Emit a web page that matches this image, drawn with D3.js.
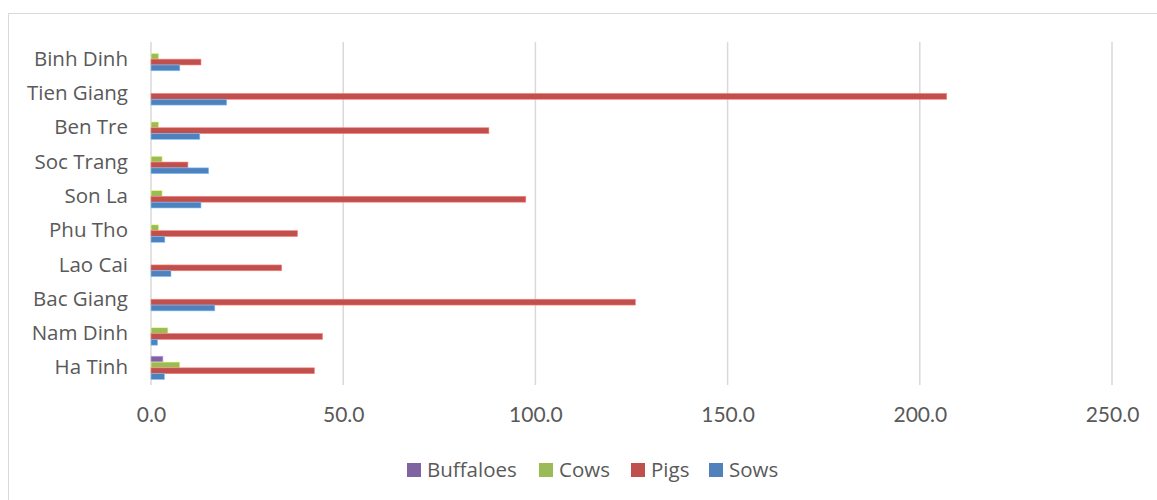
<!DOCTYPE html>
<html>
<head>
<meta charset="utf-8">
<script src="https://cdn.jsdelivr.net/npm/d3@7"></script>
<style>
  body { margin: 0; background: #fff; }
  svg text { font-family: "Open Sans", Lato, sans-serif; fill: #595959; }
</style>
</head>
<body>
<svg id="chart" width="1157" height="500"></svg>
<script>
// provinces, top to bottom as drawn
const provinces = ["Binh Dinh", "Tien Giang", "Ben Tre", "Soc Trang", "Son La",
  "Phu Tho", "Lao Cai", "Bac Giang", "Nam Dinh", "Ha Tinh"];
const seriesNames = ["Buffaloes", "Cows", "Pigs", "Sows"];
const buffaloes = [0, 0, 0, 0, 0, 0, 0, 0, 0, 3.1];
const cows = [2.0, 0, 2.0, 2.9, 2.9, 2.0, 0, 0, 4.4, 7.5];
const pigs = [13.0, 207.0, 87.9, 9.6, 97.5, 38.1, 34.0, 126.0, 44.6, 42.5];
const sows = [7.5, 19.7, 12.7, 15.0, 13.0, 3.6, 5.2, 16.6, 1.7, 3.5];
const xTicks = [0, 50, 100, 150, 200, 250];
const colors = ["#8064A2", "#9BBB59", "#C0504D", "#4F81BD"];

const svg = d3.select("#chart");

// chart frame
svg.append("rect")
  .attr("x", 8.5).attr("y", 13.5)
  .attr("width", 1170).attr("height", 500)
  .attr("fill", "none")
  .attr("stroke", "#d9d9d9");

const x = d3.scaleLinear().domain([0, 250]).range([151, 1112]);
const y = d3.scaleBand().domain(provinces).range([42, 385]).padding(0);
const sub = d3.scaleBand().domain(seriesNames).range([0, y.bandwidth()])
  .paddingInner(0).paddingOuter(0.95);

// grid
svg.append("g")
  .selectAll("line")
  .data(xTicks)
  .join("line")
  .attr("x1", d => x(d)).attr("x2", d => x(d))
  .attr("y1", 42).attr("y2", 385)
  .attr("stroke", "#d9d9d9")
  .attr("stroke-width", 1.5);

// tick labels
const xAxis = d3.axisBottom(x).tickValues(xTicks).tickFormat(d3.format(".1f"))
  .tickSize(0).tickPadding(0);
svg.append("g")
  .attr("transform", "translate(0,407)")
  .call(xAxis)
  .call(g => g.select(".domain").remove())
  .call(g => g.selectAll("text")
    .attr("dy", "0.71em")
    .style("font-family", "Lato, sans-serif")
    .style("font-size", "21px")
    .attr("fill", "#595959"));

// category labels
const yAxis = d3.axisLeft(y).tickSize(0).tickPadding(0);
svg.append("g")
  .attr("transform", "translate(128,0)")
  .call(yAxis)
  .call(g => g.select(".domain").remove())
  .call(g => g.selectAll("text")
    .style("font-family", "'Open Sans', sans-serif")
    .style("font-size", "20.5px")
    .attr("fill", "#595959"));

// bars
const allSeries = [buffaloes, cows, pigs, sows];
const rows = [];
allSeries.forEach((vals, si) => {
  vals.forEach((v, pi) => {
    rows.push({ province: provinces[pi], series: seriesNames[si], value: v, color: colors[si] });
  });
});

svg.append("g")
  .selectAll("rect")
  .data(rows.filter(d => d.value > 0))
  .join("rect")
  .attr("x", x(0))
  .attr("y", d => y(d.province) + sub(d.series))
  .attr("width", d => x(d.value) - x(0))
  .attr("height", sub.bandwidth())
  .attr("fill", d => d.color)
  .attr("stroke", d => d3.color(d.color).brighter(1.2))
  .attr("stroke-width", 0.6);

// legend
const legendX = [407, 539, 631, 709];
const legend = svg.append("g")
  .selectAll("g")
  .data(seriesNames)
  .join("g")
  .attr("transform", (d, i) => `translate(${legendX[i]},463)`);
legend.append("rect")
  .attr("width", 14).attr("height", 14)
  .attr("fill", (d, i) => colors[i]);
legend.append("text")
  .attr("x", 20).attr("y", 14)
  .style("font-size", "20.5px")
  .text(d => d);
</script>
</body>
</html>
